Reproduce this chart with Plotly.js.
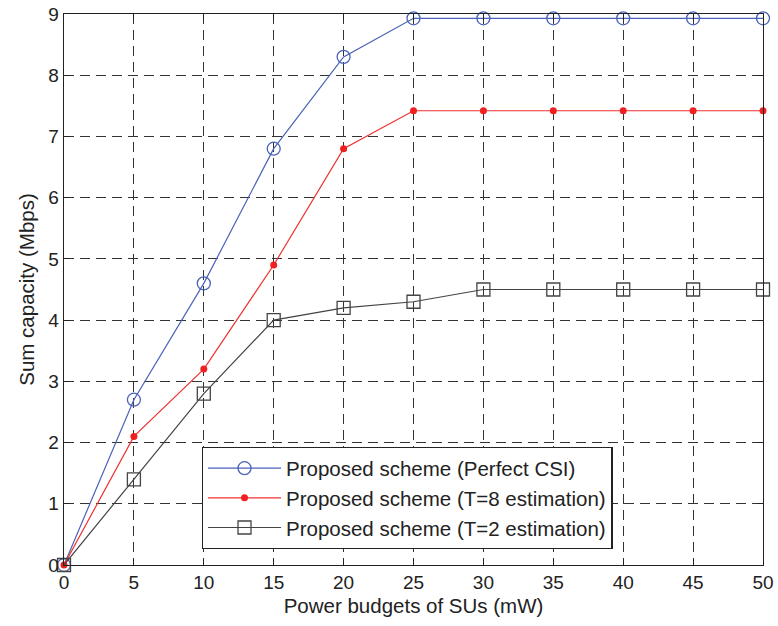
<!DOCTYPE html>
<html><head><meta charset="utf-8">
<script src="https://cdn.plot.ly/plotly-3.0.1.min.js"></script>
<style>body{margin:0;background:#fff}#c{width:778px;height:626px}</style>
</head><body><div id="c"></div>
<script>
const power = [0, 5, 10, 15, 20, 25, 30, 35, 40, 45, 50];
const perfectCSI = [0, 2.7, 4.6, 6.8, 8.3, 8.93, 8.93, 8.93, 8.93, 8.93, 8.93];
const est8 = [0, 2.1, 3.2, 4.9, 6.8, 7.42, 7.42, 7.42, 7.42, 7.42, 7.42];
const est2 = [0, 1.4, 2.8, 4.0, 4.2, 4.3, 4.5, 4.5, 4.5, 4.5, 4.5];
const names = ['Proposed scheme (Perfect CSI)', 'Proposed scheme (T=8 estimation)', 'Proposed scheme (T=2 estimation)'];
const xTicks = [0, 5, 10, 15, 20, 25, 30, 35, 40, 45, 50];
const yTicks = [0, 1, 2, 3, 4, 5, 6, 7, 8, 9];

const FONT = 'Liberation Sans, Arial, sans-serif';
const traces = [
  {x: power, y: perfectCSI, name: names[0], mode: 'lines+markers', cliponaxis: false,
   line: {color: '#4a62b8', width: 1.2},
   marker: {symbol: 'circle-open', size: 13, color: '#4a62b8', line: {width: 1.3}}},
  {x: power, y: est8, name: names[1], mode: 'lines+markers', cliponaxis: false,
   line: {color: '#f03030', width: 1.2},
   marker: {symbol: 'circle', size: 7, color: '#f02020'}},
  {x: power, y: est2, name: names[2], mode: 'lines+markers', cliponaxis: false,
   line: {color: '#444444', width: 1.2},
   marker: {symbol: 'square-open', size: 13, color: '#444444', line: {width: 1.3}}}
];

const axisCommon = {
  showline: true, mirror: 'ticks', linecolor: '#222', linewidth: 1.3,
  ticks: 'inside', ticklen: 6, tickcolor: '#222',
  showgrid: true, gridcolor: '#333', griddash: '10px,6px', gridwidth: 1,
  zeroline: false, tickfont: {family: FONT, size: 19, color: '#222'}
};

const layout = {
  width: 778, height: 626,
  margin: {l: 64, r: 15, t: 14, b: 61},
  paper_bgcolor: '#fff', plot_bgcolor: '#fff',
  showlegend: true,
  xaxis: Object.assign({}, axisCommon, {range: [0, 50], tickvals: xTicks, ticktext: xTicks.map(String),
    title: {text: 'Power budgets of SUs (mW)', font: {family: FONT, size: 20.5, color: '#222'}, standoff: 6}}),
  yaxis: Object.assign({}, axisCommon, {range: [0, 9], tickvals: yTicks, ticktext: yTicks.map(String),
    title: {text: 'Sum capacity (Mbps)', font: {family: FONT, size: 20.5, color: '#222'}, standoff: 8}}),
  legend: {x: 0.197, y: 0.214, xanchor: 'left', yanchor: 'top', bgcolor: '#fff',
    bordercolor: '#222', borderwidth: 1.3, itemwidth: 73,
    font: {family: FONT, size: 20.5, color: '#222'}, tracegroupgap: 0}
};

Plotly.newPlot('c', traces, layout, {displayModeBar: false, staticPlot: true});
</script></body></html>
